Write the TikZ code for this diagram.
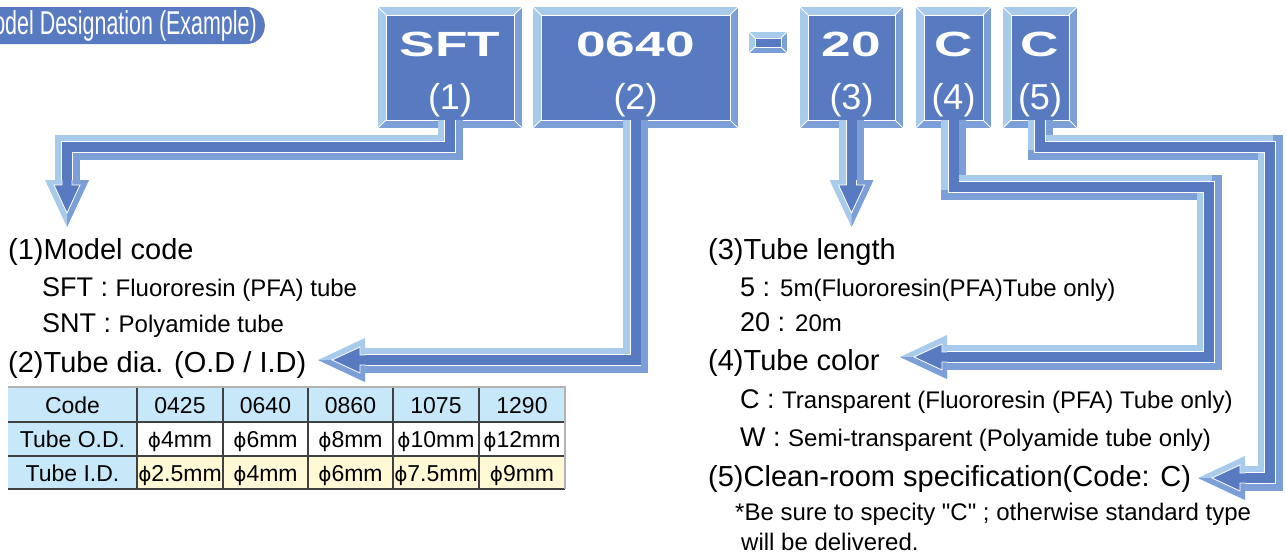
\documentclass[tikz,border=0pt]{standalone}
\usepackage{fontspec}
\setmainfont{Liberation Sans}[Ligatures=TeXOff]
\newfontfamily\widefont{Liberation Sans}[FakeStretch=1.52]
\newfontfamily\narrowfont{Liberation Sans}[FakeStretch=0.65]
\newfontfamily\phifont{DejaVu Sans}
\definecolor{boxblue}{HTML}{587AC0}
\definecolor{bevlight}{HTML}{A9CBEB}
\definecolor{bevmid}{HTML}{7C9FD8}
\definecolor{cellblue}{HTML}{C6E8F8}
\definecolor{cellyellow}{HTML}{FFF9D6}
\newcommand\bigf{\fontsize{29}{29}\selectfont}
\newcommand\keyf{\fontsize{27}{27}\selectfont}
\newcommand\smallf{\fontsize{24}{24}\selectfont}
\newcommand\cellf{\fontsize{23}{23}\selectfont}
\newcommand\dia{{\phifont\fontsize{20}{20}\selectfont ϕ}}
% beveled fat arrow: shaft along a path
\newcommand\tubearrow[1]{%
  \draw[tubemid, shorten <=-5pt] #1;
  \draw[tubelight, shorten >=-5pt, transform canvas={shift={(-5pt,5pt)}}] #1;
  \draw[tubeedge, shorten <=-5pt] #1;
  \draw[tubecore, shorten <=-5pt] #1;
}
% arrow head: base centre, rotation (0 = down, -90 = left)
\newcommand\tubehead[2]{%
  \begin{scope}[shift={(#1)}, rotate=#2]
    \fill[bevlight] (-22,0) -- (22,0) -- (0,47) -- cycle;
    \fill[bevmid] (22,0) -- (0,47) -- (0,33) -- (13,5) -- (5,5) -- (5,0) -- cycle;
    \fill[boxblue] (-5,-0.5) -- (5,-0.5) -- (5,5) -- (13,5) -- (0,33) -- (-13,5) -- (-5,5) -- cycle;
    \draw[white, line width=0.8pt, line join=miter] (5,0) -- (5,5) -- (13,5) -- (0,33) -- (-13,5) -- (-5,5) -- (-5,0);
  \end{scope}}
\begin{document}
\begin{tikzpicture}[x=1pt, y=-1pt,
    codebox/.style={rectangle, fill=bevmid, inner sep=0pt, path picture={
      \coordinate (nw) at (path picture bounding box.north west);
      \coordinate (se) at (path picture bounding box.south east);
      \coordinate (ne) at (nw -| se);
      \coordinate (sw) at (nw |- se);
      \fill[bevlight] (nw) -- (ne) -- ([shift={(-#1,-#1)}]ne) -- ([shift={(#1,-#1)}]nw)
        -- ([shift={(#1,#1)}]sw) -- (sw) -- cycle;
      \filldraw[fill=boxblue, draw=white, line width=0.8pt] ([shift={(#1,-#1)}]nw) rectangle ([shift={(-#1,#1)}]se);
      \draw[white, line width=0.8pt] (nw) -- ([shift={(#1,-#1)}]nw) (ne) -- ([shift={(-#1,-#1)}]ne)
        (se) -- ([shift={(-#1,#1)}]se) (sw) -- ([shift={(#1,#1)}]sw);
    }},
    codebox/.default=8pt,
    codetxt/.style={anchor=base, inner sep=0pt, text=white, font={\widefont\bfseries\fontsize{35}{35}\selectfont}},
    numtxt/.style={anchor=base, inner sep=0pt, text=white, font={\fontsize{36}{36}\selectfont}},
    titlepill/.style={fill=boxblue, text=white, rounded corners=18pt, minimum height=37pt, inner xsep=8pt, inner ysep=0pt,
      font={\narrowfont\fontsize{33}{33}\selectfont}},
    headtxt/.style={anchor=base west, inner sep=0pt, font=\bigf},
    itemtxt/.style={anchor=base west, inner sep=0pt, font=\smallf},
    celltxt/.style={anchor=base, inner sep=0pt, font=\cellf},
    gridline/.style={draw=black!75, line width=1.2pt},
    gridpale/.style={draw=black!30, line width=1.2pt},
    tubemid/.style={draw=bevmid, line width=25pt, line join=miter},
    tubelight/.style={draw=bevlight, line width=15pt, line join=miter},
    tubeedge/.style={draw=white, line width=11.6pt, line join=miter},
    tubecore/.style={draw=boxblue, line width=10pt, line join=miter}
  ]
  \useasboundingbox (0,0) rectangle (1286,554);

  \node[titlepill, anchor=east] (title) at (265,25.5) {Model Designation (Example)};

  % code boxes
  \node[codebox, minimum width=144pt, minimum height=121pt] (sft) at (450,67.5) {};
  \node[codebox, minimum width=205pt, minimum height=121pt] (od) at (635.5,67.5) {};
  \node[codebox=6pt, minimum width=38pt, minimum height=21pt] (dash) at (768,42.5) {};
  \node[codebox, minimum width=103pt, minimum height=121pt] (len) at (851.5,67.5) {};
  \node[codebox, minimum width=75pt, minimum height=121pt] (col) at (953.5,67.5) {};
  \node[codebox, minimum width=74pt, minimum height=121pt] (cln) at (1040,67.5) {};

  \node[codetxt] (sftcode) at (sft |- 0,56) {SFT};
  \node[codetxt] (odcode) at (od |- 0,56) {0640};
  \node[codetxt] (lencode) at (len |- 0,56) {20};
  \node[codetxt] (colcode) at (col |- 0,56) {C};
  \node[codetxt] (clncode) at (cln |- 0,56) {C};
  \node[numtxt] (sftnum) at (sft |- 0,109) {(1)};
  \node[numtxt] (odnum) at (od |- 0,109) {(2)};
  \node[numtxt] (lennum) at (len |- 0,109) {(3)};
  \node[numtxt] (colnum) at (col |- 0,109) {(4)};
  \node[numtxt] (clnnum) at (cln |- 0,109) {(5)};

  % arrows
  \coordinate (bend1) at (67,147);
  \coordinate (head1) at (67,180);
  \coordinate (head2) at (365,360);
  \coordinate (head3) at (851.5,180);
  \coordinate (bend4) at (1209,187);
  \coordinate (head4) at (947,357);
  \coordinate (bend5) at (1270,147);
  \coordinate (head5) at (1245,478);
  \tubearrow{([yshift=3pt]sft.south) |- (bend1) -- (head1)}
  \tubehead{head1}{0}
  \tubearrow{([yshift=3pt]od.south) |- (head2)}
  \tubehead{head2}{-90}
  \tubearrow{([yshift=3pt]len.south) -- (head3)}
  \tubehead{head3}{0}
  \tubearrow{([yshift=3pt]col.south) |- (bend4) |- (head4)}
  \tubehead{head4}{-90}
  \tubearrow{([yshift=3pt]cln.south) |- (bend5) |- (head5)}
  \tubehead{head5}{-90}

  % left column
  \node[headtxt] (model) at (8,259) {(1)Model code};
  \node[itemtxt] (sftline) at (42,296) {{\keyf SFT : }Fluororesin (PFA) tube};
  \node[itemtxt] (sntline) at (42,332) {{\keyf SNT : }Polyamide tube};
  \node[headtxt] (dia) at (8,372) {(2)Tube dia. (O.D / I.D)};

  % table
  \fill[cellblue] (8,387) rectangle (565,422);
  \fill[cellblue] (8,422) rectangle (137,489);
  \fill[cellyellow] (137,456) rectangle (565,489);
  \foreach \x in {137,223,308,393,479}
    \draw[gridline] (\x,387) -- (\x,489);
  \foreach \y in {422,456,489}
    \draw[gridline] (8,\y) -- (565,\y);
  \draw[gridpale] (8,387) -- (565,387) -- (565,489);
  \foreach \cx/\ra/\rb/\rc [count=\i] in {72.5/Code/Tube O.D./Tube I.D.,
      180/0425/\dia4mm/\dia2.5mm, 265.5/0640/\dia6mm/\dia4mm, 350.5/0860/\dia8mm/\dia6mm,
      436/1075/\dia10mm/\dia7.5mm, 522/1290/\dia12mm/\dia9mm} {
    \node[celltxt] (cell-1-\i) at (\cx,413) {\ra};
    \node[celltxt] (cell-2-\i) at (\cx,447) {\rb};
    \node[celltxt] (cell-3-\i) at (\cx,481) {\rc};
  }

  % right column
  \node[headtxt] (length) at (708,259) {(3)Tube length};
  \node[itemtxt] (fiveline) at (740,296) {{\keyf 5 : }5m(Fluororesin(PFA)Tube only)};
  \node[itemtxt] (twentyline) at (740,331) {{\keyf 20 : }20m};
  \node[headtxt] (color) at (708,370) {(4)Tube color};
  \node[itemtxt] (cline) at (740,408) {{\keyf C : }Transparent (Fluororesin (PFA) Tube only)};
  \node[itemtxt] (wline) at (740,446) {{\keyf W : }Semi-transparent (Polyamide tube only)};
  \node[headtxt] (clean) at (708,486) {(5)Clean-room specification(Code: C)};
  \node[itemtxt] (note) at (735,520) {*Be sure to specity "C" ; otherwise standard type};
  \node[itemtxt] (note2) at (741,550) {will be delivered.};
\end{tikzpicture}
\end{document}
